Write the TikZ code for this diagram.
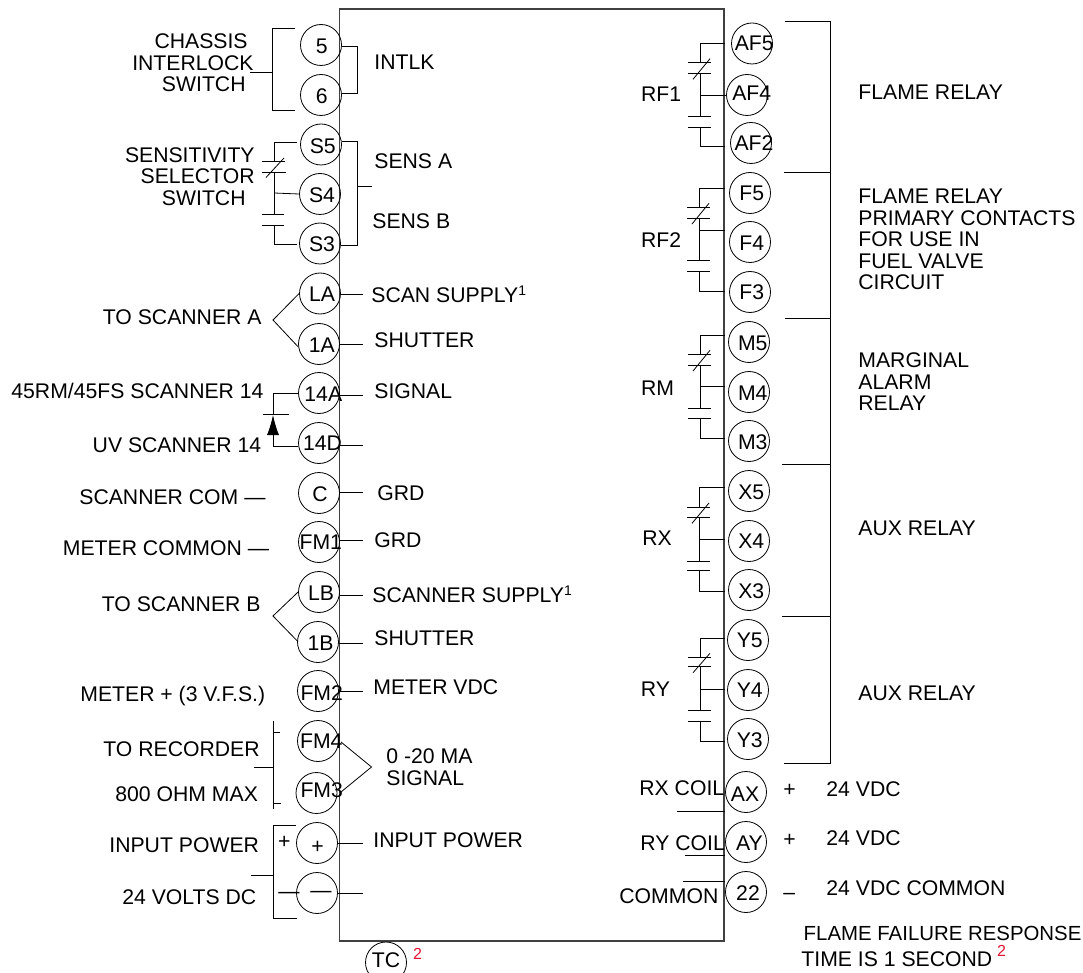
\documentclass[tikz,border=0pt]{standalone}
\usepackage{fontspec}
\setmainfont{Liberation Sans}
\usetikzlibrary{arrows.meta}
\definecolor{boxgray}{gray}{0.25}
\definecolor{notered}{RGB}{225,20,50}
\newcommand{\termtxt}[3]{\raisebox{-#2pt}[0pt][0pt]{\hbox to 0pt{\kern#1pt\makebox[0pt]{#3}\hss}}}
\newcommand{\supone}{\raisebox{7.5pt}{\fontsize{14}{14}\selectfont 1}}

\begin{document}
\begin{tikzpicture}[x=1pt, y=-1pt, line width=0.8pt,
  every node/.style = {font=\fontsize{21.2}{21.5}\selectfont, inner sep=0pt},
  term/.style = {shape=circle, draw, minimum size=41pt},
  lbl/.style = {anchor=base west, align=left},
  lblr/.style = {anchor=base east, align=right},
  note/.style = {anchor=base west, text=notered, font=\fontsize{16}{16}\selectfont}]
  \useasboundingbox (0,0) rectangle (1083,973);
  \node (body) [draw=boxgray, line width=1.4pt, minimum width=384.5pt, minimum height=932pt]
    at (531.75,475) {};

  % terminals, left then right
  \foreach \name/\txt/\tx/\ty/\dx/\dy in {t5/5/321/45/0.7/9, t6/6/321/95/0.7/8.3,
      S5/S5/321/144.5/1.8/8.8, S4/S4/320/194/2/8.7, S3/S3/320/243.5/2/8.2, LA/LA/320/293.5/2/8.2,
      1A/1A/319/344/2.8/8, 14A/14A/319/393/4.3/8.7, 14D/14D/319/443/3.5/7.7, C/C/319/493/1/8,
      FM1/FM1/319/542/1.8/7.3, LB/LB/319/592/2/8, 1B/1B/318/642/2.5/8, FM2/FM2/318/691/3.7/9,
      FM4/FM4/318/741/3.3/7.3, FM3/FM3/316.5/793/5.2/4.3, plus/+/317/843/0.5/10,
      minus/—/317/893/4/4, TC/TC/386/962.5/0/5,
      AF5/AF5/752/43.5/2.2/7.5, AF4/AF4/747/95/4.7/6, AF2/AF2/751/143/3/8, F5/F5/750/193/1.7/7.7,
      F4/F4/750/242/1.7/8.7, F3/F3/750/292/1.7/8, M5/M5/749/342/3.8/8, M4/M4/749/392/3.8/8,
      M3/M3/749/441/3.8/8, X5/X5/749/491/2.3/8, X4/X4/749/541/2.3/7.3, X3/X3/749/590/2.3/8.3,
      Y5/Y5/748/640/1.8/7.7, Y4/Y4/748/690/1.8/7.3, Y3/Y3/748/739/1.8/8.3,
      AX/AX/746/792/-1/9.7, AY/AY/746/842/3.5/8, t22/22/746/892/2/8}
    \node[term] (\name) at (\tx,\ty) {\termtxt{\dx}{\dy}{\txt}};

  % left labels
  \node[lblr] (chassis) at (254,91.7) {CHASSIS\hspace*{6pt}\\INTERLOCK\\SWITCH\hspace*{8pt}};
  \node[lblr] (sensel) at (255,205.3) {SENSITIVITY\\SELECTOR\hspace*{4pt}\\SWITCH\hspace*{9pt}};
  \node[lbl] (toscana) at (102.5,324.7) {TO SCANNER A};
  \node[lbl] (rm45) at (11,398.3) {45RM/45FS SCANNER 14};
  \node[lbl] (uvscan) at (92.3,452.7) {UV SCANNER 14};
  \node[lbl] (scancom) at (79,504.7) {SCANNER COM —};
  \node[lbl] (metercom) at (62.5,555.7) {METER COMMON —};
  \node[lbl] (toscanb) at (101.5,611.7) {TO SCANNER B};
  \node[lbl] (meterp) at (80,701.7) {METER + (3 V.F.S.)};
  \node[lbl] (torec) at (103,756.7) {TO RECORDER};
  \node[lbl] (ohm) at (115,801.7) {800 OHM MAX};
  \node[lbl] (inpow) at (109,852.7) {INPUT POWER};
  \node[lbl] (volts) at (122,904) {24 VOLTS DC};
  \node[lbl] (pplus) at (277.7,848) {+};
  \node[lbl] (pminus) at (278,898) {—};

  % labels right of the terminals on the left
  \node[lbl] (intlk) at (374,69.3) {INTLK};
  \node[lbl] (sensa) at (374,169) {SENS A};
  \node[lbl] (sensb) at (372,228.3) {SENS B};
  \node[lbl] (scansup) at (371,302.7) {SCAN SUPPLY\supone};
  \node[lbl] (shuta) at (374,347.7) {SHUTTER};
  \node[lbl] (signal) at (374,398.3) {SIGNAL};
  \node[lbl] (grda) at (377,500.7) {GRD};
  \node[lbl] (grdb) at (374,547.7) {GRD};
  \node[lbl] (scanrsup) at (372,602.7) {SCANNER SUPPLY\supone};
  \node[lbl] (shutb) at (374,645.7) {SHUTTER};
  \node[lbl] (metervdc) at (373,694) {METER VDC};
  \node[lbl] (marange) at (386,785) {0 -20 MA\\SIGNAL};
  \node[lbl] (inpowr) at (373,847.3) {INPUT POWER};
  \node[note] (tcnote) at (412.7,959) {2};

  % relay names
  \node[lbl] (RF1) at (640.7,101.7) {RF1};
  \node[lbl] (RF2) at (640.7,247.7) {RF2};
  \node[lbl] (RM) at (640.7,395) {RM};
  \node[lbl] (RX) at (642,545.3) {RX};
  \node[lbl] (RY) at (640.5,696) {RY};
  \node[lbl] (rxcoil) at (639,795) {RX COIL};
  \node[lbl] (rycoil) at (640,850) {RY COIL};
  \node[lbl] (common) at (619,903.3) {COMMON};

  % right labels
  \node[lbl] (flame) at (858,100) {FLAME RELAY};
  \node[lbl] (primary) at (858,290) {FLAME RELAY\\PRIMARY CONTACTS\\FOR USE IN\\FUEL VALVE\\CIRCUIT};
  \node[lbl] (marginal) at (858,410.7) {MARGINAL\\ALARM\\RELAY};
  \node[lbl] (auxx) at (858,535.7) {AUX RELAY};
  \node[lbl] (auxy) at (858,700.7) {AUX RELAY};
  \node[lbl] (pax) at (783,796.7) {+};
  \node[lbl] (pay) at (783,846) {+};
  \node[lbl] (mcom) at (783,899) {–};
  \node[lbl] (vdcx) at (826,796) {24 VDC};
  \node[lbl] (vdcy) at (826,845) {24 VDC};
  \node[lbl] (vdccom) at (826,895) {24 VDC COMMON};
  \node[lbl, font=\fontsize{20.4}{21.5}\selectfont] (failure) at (803.3,940) {FLAME FAILURE RESPONSE};
  \node[lbl] (onesec) at (801,966) {TIME IS 1 SECOND};
  \node[note] (failnote) at (996.7,956.7) {2};

  % relay contacts on the inside of the box
  \foreach \top/\mid/\bot/\xc/\yt/\ya/\yb/\ym/\yc/\yd/\ye in {
      AF5/AF4/AF2/700/43.5/62.7/73.3/95/116.7/127/146.7,
      F5/F4/F3/699/188.3/207.3/218/230/260.7/271.3/291.7,
      M5/M4/M3/700/335/354.3/365/386.7/408.3/418.7/438.7,
      X5/X4/X3/699/487.7/507/517.3/539/561.3/570/591,
      Y5/Y4/Y3/700/638.3/657.3/666.7/689.7/710.7/721.7/741.7} {
    \draw (body.east |- 0,\yt) -- (\xc,\yt) -- (\xc,\ya);
    \draw (\xc-12,\ya) -- (\xc+11,\ya);
    \draw (\xc-12,\yb) -- (\xc+11,\yb);
    \draw (\xc-7,\yb+6) -- (\xc+10,\ya-4);
    \draw (\xc,\yb) -- (\xc,\yc);
    \draw (\xc,\ym) -- (body.east |- 0,\ym);
    \draw (\xc-12,\yc) -- (\xc+11,\yc);
    \draw (\xc-12,\yd) -- (\xc+11,\yd);
    \draw (\xc,\yd) -- (\xc,\ye) -- (body.east |- 0,\ye);
  }
  \draw (body.east |- AF4) -- (AF4.west);

  % coil wires
  \draw (677,811.7) -- (body.east |- 0,811.7);
  \draw (685,855) -- (body.east |- 0,855);
  \draw (683,881.7) -- (body.east |- 0,881.7);

  % bracket on the right
  \draw (785,21.7) -- (830,21.7) -- (830,763.7) -- (784,763.7);
  \draw (784,172.7) -- (830,172.7);
  \draw (785,318.3) -- (830,318.3);
  \draw (782,464) -- (830,464);
  \draw (782,616) -- (830,616);

  % stubs out of the left terminals
  \foreach \name/\ty in {LA/294, 1A/344.5, 14A/395, 14D/445, C/492, FM1/540, LB/595, 1B/643,
      FM2/691.5, plus/843.5, minus/893.5} {
    \coordinate (\name end) at (363,\ty);
    \draw (\name.east |- \name end) -- (\name end);
  }
  \draw (t5.east |- 0,46) -- (357.5,46) -- (357.5,93) -- (t6.east |- 0,93);
  \draw (S5.east |- 0,141.5) -- (357.5,141.5) -- (357.5,245) -- (S3.east |- 0,245);
  \draw (357.5,186) -- (372,186);
  \coordinate (maf) at (371.5,767);
  \draw (341,742) -- (maf) -- (341,792);

  % outer wiring, left side
  \draw (295,28.5) -- (272,28.5) -- (272,110) -- (295,110);
  \draw (250,72) -- (272,72);
  \draw (297,142.5) -- (274,142.5) -- (274,161.5);
  \draw (262,161.5) -- (285,161.5);
  \draw (262,172) -- (286,172);
  \draw (266,177.5) -- (284,158);
  \draw (274,172) -- (274,214.5);
  \draw (274,193) -- (S4.west);
  \draw (262,214.5) -- (284,214.5);
  \draw (262,225) -- (284,225);
  \draw (274,225) -- (274,244.5) -- (297,244.5);
  \draw (LA.west) -- (273,320) -- (298,346.7);
  \draw (LB.west) -- (273,616) -- (298,641.7);
  \draw (14A.west) -- (273,393) -- (273,414);
  \draw (263,414) -- (289,414);
  \draw[-{Latex[length=20pt,width=12pt]}] (14D.west |- 0,446.7) -- (273,446.7) -- (273,415);
  \draw (273,721) -- (273,809);
  \draw (273,732) -- (279.5,732);
  \draw (273,803) -- (281,803);
  \draw (254,767) -- (273,767);
  \draw (296,825.5) -- (273.5,825.5) -- (273.5,918) -- (297,918);
  \draw (251,875.5) -- (273.5,875.5);
\end{tikzpicture}
\end{document}
